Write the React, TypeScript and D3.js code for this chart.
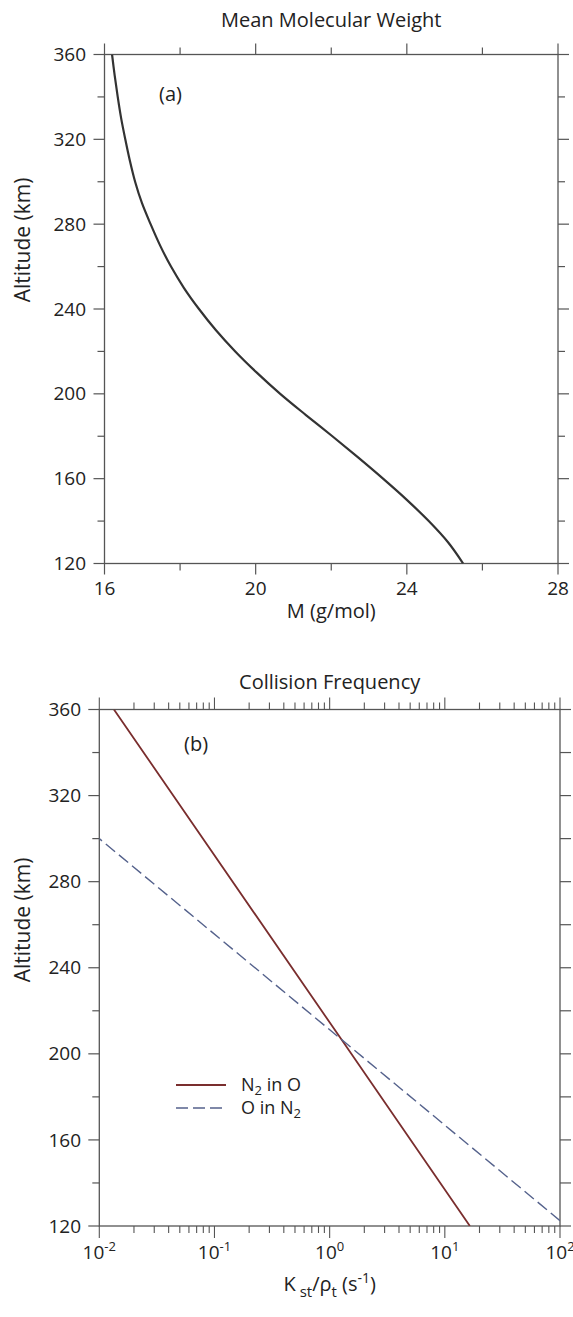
import React from 'react';
import * as d3 from 'd3';

// ---------- data ----------
const altitudeTicks = [120, 140, 160, 180, 200, 220, 240, 260, 280, 300, 320, 340, 360];
const altitudeLabels = [120, 160, 200, 240, 280, 320, 360];
const mTicks = [16, 18, 20, 22, 24, 26, 28];
const mLabels = [16, 20, 24, 28];

const mwAltitude = [120, 130, 140, 150, 160, 170, 180, 190, 200, 210, 220, 230, 240, 250, 260, 270, 280, 290, 300, 310, 320, 330, 340, 350, 360];
const mwValue = [25.49, 25.09, 24.58, 24.0, 23.37, 22.71, 22.03, 21.33, 20.65, 20.03, 19.46, 18.95, 18.5, 18.1, 17.76, 17.47, 17.22, 16.99, 16.81, 16.67, 16.55, 16.44, 16.35, 16.27, 16.2];

const kDecades = [-2, -1, 0, 1, 2];
const n2Altitude = [120, 205, 360];
const n2Value = [16.5, 1.33, 0.0134];
const oAltitude = [122.5, 205, 300];
const oValue = [100, 1.38, 0.01];

const FONT = '"Open Sans", "Noto Sans", sans-serif';
const AX = '#555';
const TXT = '#222';
const N2C = '#7a2e2e';
const OC = '#55628c';

export default function App() {
  const xa = d3.scaleLinear().domain([16, 28]).range([104.5, 558]);
  const ya = d3.scaleLinear().domain([120, 360]).range([563.5, 54.5]);
  const xb = d3.scaleLog().domain([0.01, 100]).range([99.3, 560]);
  const yb = d3.scaleLinear().domain([120, 360]).range([1226, 709.5]);

  const mwLine = d3
    .line<number>()
    .x((_, i) => xa(mwValue[i]))
    .y((a) => ya(a))
    .curve(d3.curveCatmullRom.alpha(0.5))(mwAltitude) as string;

  const n2Line = d3
    .line<number>()
    .x((_, i) => xb(n2Value[i]))
    .y((a) => yb(a))(n2Altitude) as string;
  const oLine = d3
    .line<number>()
    .x((_, i) => xb(oValue[i]))
    .y((a) => yb(a))(oAltitude) as string;

  const logTicks: { v: number; major: boolean }[] = [];
  kDecades.forEach((d, i) => {
    logTicks.push({ v: Math.pow(10, d), major: true });
    if (i < kDecades.length - 1) {
      for (let m = 2; m <= 9; m++) logTicks.push({ v: m * Math.pow(10, d), major: false });
    }
  });

  const yAxisTicks = (y: (v: number) => number, x0: number, x1: number, rightEqual: boolean) =>
    altitudeTicks.map((a) => {
      const major = altitudeLabels.includes(a);
      const lenL = major ? 11 : 7;
      const lenR = rightEqual ? 11 : major ? 11 : 7;
      return (
        <g key={'yt' + a}>
          <line x1={x0 - lenL} x2={x0} y1={y(a)} y2={y(a)} stroke={AX} strokeWidth={1.2} />
          <line x1={x1} x2={x1 + lenR} y1={y(a)} y2={y(a)} stroke={AX} strokeWidth={1.2} />
        </g>
      );
    });

  const [xa0, xa1] = xa.range();
  const [ya1, ya0] = ya.range();
  const [xb0, xb1] = xb.range();
  const [yb1, yb0] = yb.range();

  return (
    <svg
      width={573}
      height={1317}
      viewBox="0 0 573 1317"
      style={{ position: 'absolute', left: 0, top: 0, background: '#fff' }}
      fontFamily={FONT}
    >
      <rect x={0} y={0} width={573} height={1317} fill="#fff" />
      <defs>
        <clipPath id="clipA">
          <rect x={xa0} y={ya0} width={xa1 - xa0} height={ya1 - ya0} />
        </clipPath>
        <clipPath id="clipB">
          <rect x={xb0} y={yb0} width={xb1 - xb0} height={yb1 - yb0} />
        </clipPath>
      </defs>

      {/* ---------------- Panel (a) ---------------- */}
      <text x={(xa0 + xa1) / 2} y={27} textAnchor="middle" fontSize={20} fill={TXT}>
        Mean Molecular Weight
      </text>
      <rect x={xa0} y={ya0} width={xa1 - xa0} height={ya1 - ya0} fill="none" stroke={AX} strokeWidth={1.3} />
      {mTicks.map((m) => {
        const major = mLabels.includes(m);
        const len = major ? 11 : 7;
        return (
          <g key={'xt' + m}>
            <line x1={xa(m)} x2={xa(m)} y1={ya0} y2={ya0 - len} stroke={AX} strokeWidth={1.2} />
            <line x1={xa(m)} x2={xa(m)} y1={ya1} y2={ya1 + len} stroke={AX} strokeWidth={1.2} />
          </g>
        );
      })}
      {yAxisTicks(ya, xa0, xa1, false)}
      {mLabels.map((m) => (
        <text key={'xl' + m} x={xa(m)} y={595} textAnchor="middle" fontSize={19} fill={TXT}>
          {m}
        </text>
      ))}
      {altitudeLabels.map((a) => (
        <text key={'yla' + a} x={86} y={ya(a)} dy="0.35em" textAnchor="end" fontSize={19} fill={TXT}>
          {a}
        </text>
      ))}
      <text x={(xa0 + xa1) / 2} y={618} textAnchor="middle" fontSize={20} fill={TXT}>
        M (g/mol)
      </text>
      <text transform={`translate(30, 240) rotate(-90)`} textAnchor="middle" fontSize={21} fill={TXT}>
        Altitude (km)
      </text>
      <text x={159} y={101} fontSize={20} fill={TXT}>
        (a)
      </text>
      <path d={mwLine} fill="none" stroke="#333" strokeWidth={2.2} clipPath="url(#clipA)" />

      {/* ---------------- Panel (b) ---------------- */}
      <text x={(xb0 + xb1) / 2} y={689} textAnchor="middle" fontSize={20} fill={TXT}>
        Collision Frequency
      </text>
      <rect x={xb0} y={yb0} width={xb1 - xb0} height={yb1 - yb0} fill="none" stroke={AX} strokeWidth={1.3} />
      {logTicks.map((t, i) => {
        const len = t.major ? 12 : 7;
        return (
          <g key={'lt' + i}>
            <line x1={xb(t.v)} x2={xb(t.v)} y1={yb0} y2={yb0 - len} stroke={AX} strokeWidth={1.1} />
            <line x1={xb(t.v)} x2={xb(t.v)} y1={yb1} y2={yb1 + len} stroke={AX} strokeWidth={1.1} />
          </g>
        );
      })}
      {yAxisTicks(yb, xb0, xb1, true)}
      {kDecades.map((d) => (
        <text key={'kl' + d} x={xb(Math.pow(10, d))} y={1259} textAnchor="middle" fontSize={19} fill={TXT}>
          10
          <tspan fontSize={13} dy={-8}>
            {d}
          </tspan>
        </text>
      ))}
      {altitudeLabels.map((a) => (
        <text key={'ylb' + a} x={81} y={yb(a)} dy="0.35em" textAnchor="end" fontSize={19} fill={TXT}>
          {a}
        </text>
      ))}
      <text x={(xb0 + xb1) / 2} y={1291} textAnchor="middle" fontSize={20} fill={TXT}>
        K
        <tspan fontSize={15} dx={4} dy={6}>
          st
        </tspan>
        <tspan dy={-6}>/ρ</tspan>
        <tspan fontSize={15} dy={6}>
          t
        </tspan>
        <tspan dy={-6}> (s</tspan>
        <tspan fontSize={14} dy={-8}>
          -1
        </tspan>
        <tspan dy={8}>)</tspan>
      </text>
      <text transform={`translate(30, 920) rotate(-90)`} textAnchor="middle" fontSize={21} fill={TXT}>
        Altitude (km)
      </text>
      <text x={184} y={751} fontSize={20} fill={TXT}>
        (b)
      </text>
      <path d={n2Line} fill="none" stroke={N2C} strokeWidth={1.8} clipPath="url(#clipB)" />
      <path d={oLine} fill="none" stroke={OC} strokeWidth={1.4} strokeDasharray="12,5" clipPath="url(#clipB)" />

      {/* legend */}
      <line x1={176} x2={226} y1={1085} y2={1085} stroke={N2C} strokeWidth={2.2} />
      <text x={241} y={1091} fontSize={18} fill={TXT}>
        N
        <tspan fontSize={13} dy={4}>
          2
        </tspan>
        <tspan dy={-4}> in O</tspan>
      </text>
      <line x1={176} x2={226} y1={1108} y2={1108} stroke={OC} strokeWidth={1.4} strokeDasharray="12,5" />
      <text x={241} y={1114} fontSize={18} fill={TXT}>
        O in N
        <tspan fontSize={13} dy={4}>
          2
        </tspan>
      </text>
    </svg>
  );
}
